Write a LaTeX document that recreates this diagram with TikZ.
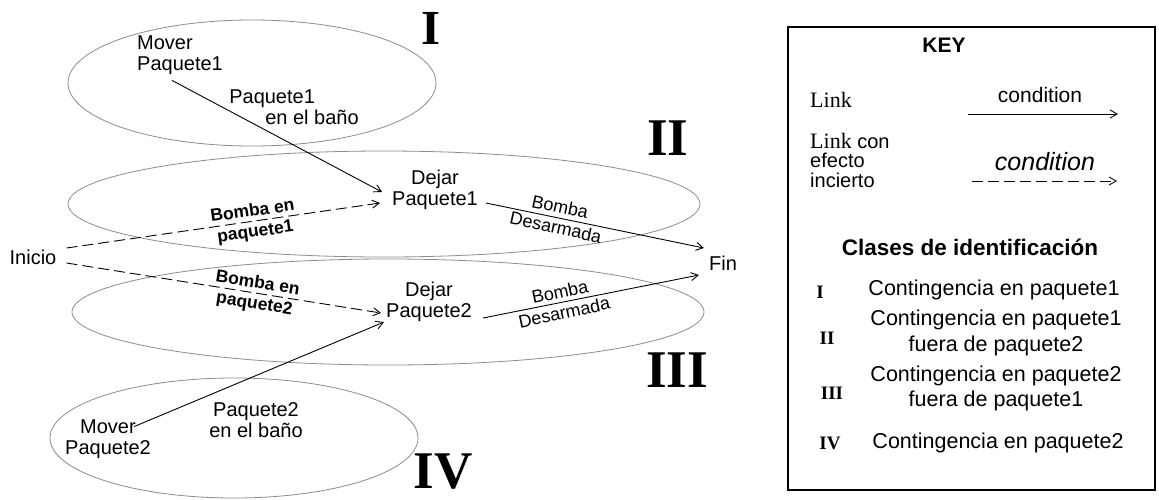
\documentclass[tikz,border=0pt]{standalone}
\usepackage{fontspec}
\setmainfont{Liberation Sans}
\newfontfamily\romanfont{Liberation Serif}
\usetikzlibrary{arrows.meta,calc}
\begin{document}
\begin{tikzpicture}[x=1pt,y=-1pt,
  every node/.style={inner sep=0pt, font=\fontsize{20}{20.5}\selectfont},
  region/.style={draw=black!45, line width=0.8pt},
  numeral/.style={font=\romanfont\bfseries\fontsize{53}{53}\selectfont},
  keynum/.style={font=\romanfont\bfseries\fontsize{19}{19}\selectfont},
  keytext/.style={align=center, font=\fontsize{21.5}{26}\selectfont},
  act/.style={align=center},
  cond/.style={align=center, font=\fontsize{18}{21}\selectfont},
  bcond/.style={align=center, font=\bfseries\fontsize{17.5}{21}\selectfont},
  arr/.style={line width=0.9pt, -{Straight Barb[length=7pt,width=8pt]}},
  darr/.style={arr, dash pattern=on 11pt off 5pt}]
\useasboundingbox (0,0) rectangle (1159,499);
\fill[white] (0,0) rectangle (1159,499);

% contingency regions
\draw[region] (252,83) ellipse [x radius=184, y radius=63];
\draw[region] (384,204) ellipse [x radius=316, y radius=53];
\draw[region] (388,312) ellipse [x radius=316, y radius=53];
\draw[region] (234,438) ellipse [x radius=184, y radius=60];

% region numerals
\node[numeral, font=\romanfont\bfseries\fontsize{49}{49}\selectfont] (n1) at (431,28) {I};
\node[numeral] (n2) at (668,138) {II};
\node[numeral] (n3) at (677,370) {III};
\node[numeral] (n4) at (443,472) {IV};

% plan steps
\node[align=left] (mp1) at (180,55) {Mover\\Paquete1};
\node[act] (dp1) at (435,190) {Dejar\\Paquete1};
\node (ini) at (33,257) {Inicio};
\node (fin) at (723,263) {Fin};
\node[act] (dp2) at (429,302) {Dejar\\Paquete2};
\node[act] (mp2) at (108,439) {Mover\\Paquete2};

% conditions
\node[align=left] (c1) at (294,107) {Paquete1\\\hspace*{36pt}en el baño};
\node[act] (c2) at (256,420) {Paquete2\\en el baño};
\node[bcond, rotate=8] (b1) at (254,222) {Bomba en\\paquete1};
\node[bcond, rotate=-9] (b2) at (256,294) {Bomba en\\paquete2};
\node[cond, rotate=-12] (d1) at (558,217) {Bomba\\Desarmada};
\node[cond, rotate=12] (d2) at (562,302) {Bomba\\Desarmada};

% links
\draw[arr] ($(mp1.south)+(-8,6)$) -- ($(dp1.west)+(-10,2)$);
\draw[darr] ($(ini.east)+(10,-9)$) -- ($(dp1.west)+(-12,13)$);
\draw[darr] ($(ini.east)+(10,6)$) -- ($(dp2.west)+(-5,11)$);
\draw[arr] ($(mp2.north east)+(-17,7)$) -- ($(dp2.west)+(-2,20)$);
\draw[arr] ($(dp1.east)+(8,13)$) -- ($(fin.west)+(-5,-15)$);
\draw[arr] ($(dp2.east)+(11,16)$) -- ($(fin.west)+(-10,12)$);

% key
\draw[line width=1.6pt] (788,27) rectangle (1155,490);
\node[font=\bfseries\fontsize{21}{21}\selectfont] (key) at (944,45) {KEY};
\node[font=\romanfont\fontsize{22}{22}\selectfont] (l1) at (831,100) {Link};
\node[font=\fontsize{21}{21}\selectfont] (cn1) at (1040,95) {condition};
\coordinate (s1a) at (968,114);
\coordinate (s1b) at (1118,114);
\draw[arr] (s1a) -- (s1b);
\node[align=left, anchor=west, font=\fontsize{20}{19.5}\selectfont] (l2) at (810,160) {{\romanfont\fontsize{22}{19.5}\selectfont Link} con\\efecto\\incierto};
\node[font=\itshape\fontsize{25}{25}\selectfont] (cn2) at (1045,162) {condition};
\coordinate (s2a) at (972,181);
\coordinate (s2b) at (1117,181);
\draw[darr] (s2a) -- (s2b);
\node[font=\bfseries\fontsize{22.5}{22.5}\selectfont] (cls) at (970,247) {Clases de identificación};
\node[keynum] (k1) at (820,292) {I};
\node[keynum] (k2) at (827,338) {II};
\node[keynum] (k3) at (832,393) {III};
\node[keynum] (k4) at (830,443) {IV};
\node[keytext] (t1) at (994,290) {Contingencia en paquete1};
\node[keytext] (t2) at (996,333) {Contingencia en paquete1\\fuera de paquete2};
\node[keytext, font=\fontsize{21.5}{25}\selectfont] (t3) at (996,388) {Contingencia en paquete2\\fuera de paquete1};
\node[keytext] (t4) at (998,443) {Contingencia en paquete2};
\end{tikzpicture}
\end{document}
